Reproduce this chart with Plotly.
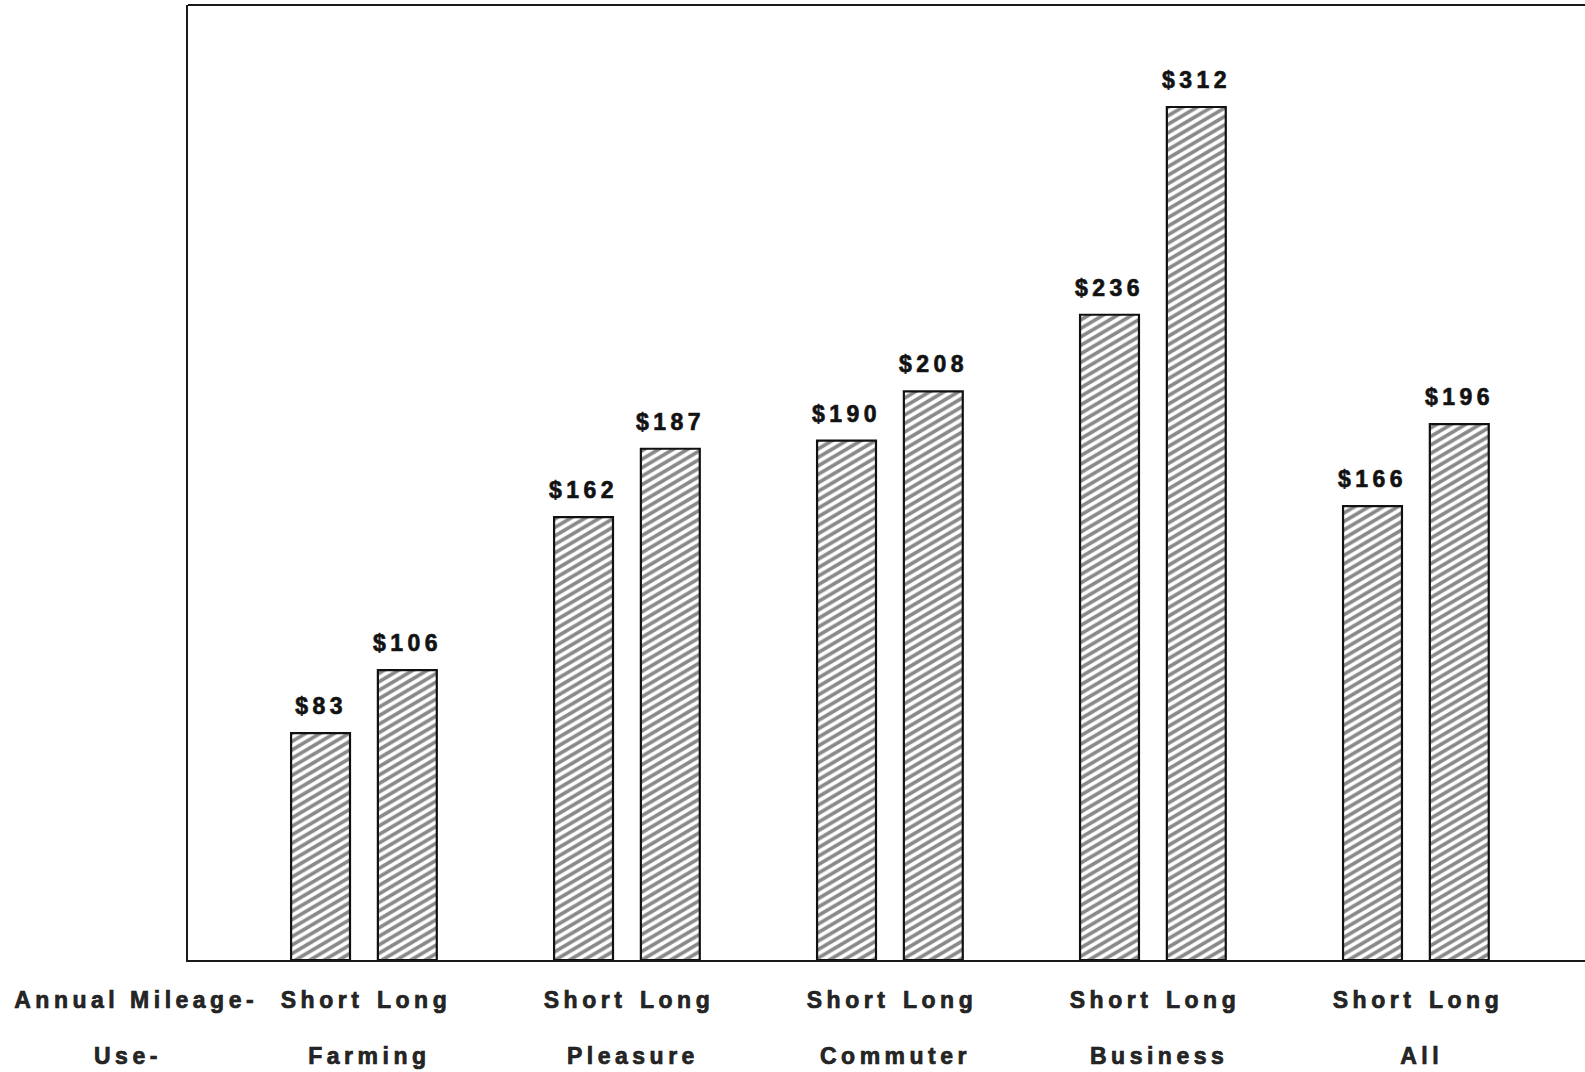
import plotly.graph_objects as go

# Average annual repair cost by vehicle use and annual mileage
uses = ["Farming", "Pleasure", "Commuter", "Business", "All"]
mileage = ["Short", "Long"]
short_cost = [83, 162, 190, 236, 166]
long_cost = [106, 187, 208, 312, 196]

OFFSET = 0.165      # half distance between the two bars of a group (x units)
BAR_W = 0.224
FONT = "Liberation Sans, Arial, Helvetica, sans-serif"

x_short = [i - OFFSET for i in range(len(uses))]
x_long = [i + OFFSET for i in range(len(uses))]

hatch = dict(shape="/", fgcolor="#141414", bgcolor="white", size=6, solidity=0.5)

fig = go.Figure()
for xs, vals, name in [(x_short, short_cost, mileage[0]), (x_long, long_cost, mileage[1])]:
    fig.add_trace(go.Bar(
        x=xs, y=vals, width=BAR_W, name=name,
        marker=dict(color="white", pattern=hatch, line=dict(color="#111", width=2.2)),
        hoverinfo="skip",
    ))

annotations = []
# dollar labels above each bar
for xs, vals in [(x_short, short_cost), (x_long, long_cost)]:
    for x, v in zip(xs, vals):
        annotations.append(dict(
            x=x, y=v, xref="x", yref="y", text=f"${v}", showarrow=False,
            yanchor="bottom", yshift=12,
            font=dict(family=FONT, size=23, color="#111", weight="bold"),
        ))

ROW1 = -0.042
ROW2 = -0.100
label_font = dict(family=FONT, size=23, color="#262626", weight="bold")

# mileage row and use row beneath the axis
for i, u in enumerate(uses):
    annotations.append(dict(x=x_short[i], y=ROW1, xref="x", yref="paper", text=mileage[0],
                            showarrow=False, yanchor="middle", xshift=1, font=label_font))
    annotations.append(dict(x=x_long[i], y=ROW1, xref="x", yref="paper", text=mileage[1],
                            showarrow=False, yanchor="middle", xshift=7, font=label_font))
    annotations.append(dict(x=i, y=ROW2, xref="x", yref="paper", text=u,
                            showarrow=False, yanchor="middle", xshift=6, font=label_font))

# row titles sit left of the plot area
annotations.append(dict(x=-0.037, y=ROW1, xref="paper", yref="paper", text="Annual Mileage-",
                        showarrow=False, xanchor="center", yanchor="middle", font=label_font))
annotations.append(dict(x=-0.043, y=ROW2, xref="paper", yref="paper", text="Use-",
                        showarrow=False, xanchor="center", yanchor="middle", font=label_font))

fig.update_layout(
    width=1585, height=1072,
    margin=dict(l=188, r=0, t=5, b=112),
    paper_bgcolor="white", plot_bgcolor="white",
    showlegend=False,
    barmode="overlay",
    annotations=annotations,
    xaxis=dict(range=[-0.669, 4.643], showgrid=False, zeroline=False, showticklabels=False,
               ticks="", showline=True, linecolor="#1a1a1a", linewidth=2, fixedrange=True),
    yaxis=dict(range=[0, 349.3], showgrid=False, zeroline=False, showticklabels=False,
               ticks="", showline=True, linecolor="#1a1a1a", linewidth=2, fixedrange=True),
    shapes=[dict(type="line", xref="paper", yref="paper", x0=0, x1=1, y0=1, y1=1,
                 line=dict(color="#1a1a1a", width=2))],
)

# heavier, wider-spaced lettering and a flatter hatch angle
style_js = """
var gd = document.getElementById('{plot_id}');
function restyle() {
  gd.querySelectorAll('.annotation-text').forEach(function (t) {
    t.style.letterSpacing = '4.5px';
    t.style.stroke = '#1a1a1a';
    t.style.strokeWidth = '0.7px';
  });
  document.querySelectorAll('pattern').forEach(function (p) {
    p.setAttribute('patternTransform', 'scale(1.7,1)');
  });
}
restyle();
gd.on('plotly_afterplot', restyle);
setTimeout(restyle, 0);
setTimeout(restyle, 300);
"""

fig.write_html("out.html", config={"displayModeBar": False}, post_script=style_js)
